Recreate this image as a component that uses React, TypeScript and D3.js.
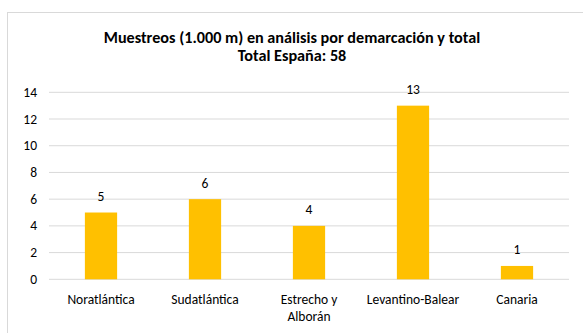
import React from "react";
import * as d3 from "d3";

const categories = ["Noratlántica", "Sudatlántica", "Estrecho y Alborán", "Levantino-Balear", "Canaria"];
const categoryLines = [["Noratlántica"], ["Sudatlántica"], ["Estrecho y", "Alborán"], ["Levantino-Balear"], ["Canaria"]];
const values = [5, 6, 4, 13, 1];
const yTicks = [0, 2, 4, 6, 8, 10, 12, 14];
const titleLines = ["Muestreos (1.000 m) en análisis por demarcación y total", "Total España: 58"];

const W = 583;
const H = 333;
const font = "Carlito, Calibri, 'Liberation Sans', Arial, sans-serif";

export default function App() {
  const x = d3.scaleBand<string>().domain(categories).range([49, 569]).paddingInner(0.69).paddingOuter(0.345);
  const y = d3.scaleLinear().domain([0, 14]).range([279.3, 92.3]);
  return (
    <svg width={W} height={H} style={{ position: "fixed", left: 0, top: 0, background: "#fff" }}>
      <rect x={7.5} y={12.5} width={W + 10} height={H + 10} fill="#fff" stroke="#d9d9d9" strokeWidth={1} />
      {titleLines.map((t, i) => (
        <text key={i} x={292} y={42.5 + i * 18} textAnchor="middle" fontFamily={font} fontWeight="bold" fontSize={16.2} fill="#000">
          {t}
        </text>
      ))}
      {yTicks.map((t) => (
        <g key={t}>
          <line x1={49} x2={569} y1={y(t)} y2={y(t)} stroke="#d9d9d9" strokeWidth={1} />
          <text x={37} y={y(t) + 4.5} textAnchor="end" fontFamily={font} fontSize={13.5} fill="#000">
            {t}
          </text>
        </g>
      ))}
      {categories.map((c, i) => {
        const cx = (x(c) as number) + x.bandwidth() / 2;
        return (
          <g key={c}>
            <rect x={x(c)} y={y(values[i])} width={x.bandwidth()} height={y(0) - y(values[i])} fill="#FFC000" />
            <text x={cx} y={y(values[i]) - 11.5} textAnchor="middle" fontFamily={font} fontSize={13.5} fill="#000">
              {values[i]}
            </text>
            {categoryLines[i].map((l, j) => (
              <text key={j} x={cx} y={303.5 + j * 17} textAnchor="middle" fontFamily={font} fontSize={13.5} fill="#000">
                {l}
              </text>
            ))}
          </g>
        );
      })}
    </svg>
  );
}
